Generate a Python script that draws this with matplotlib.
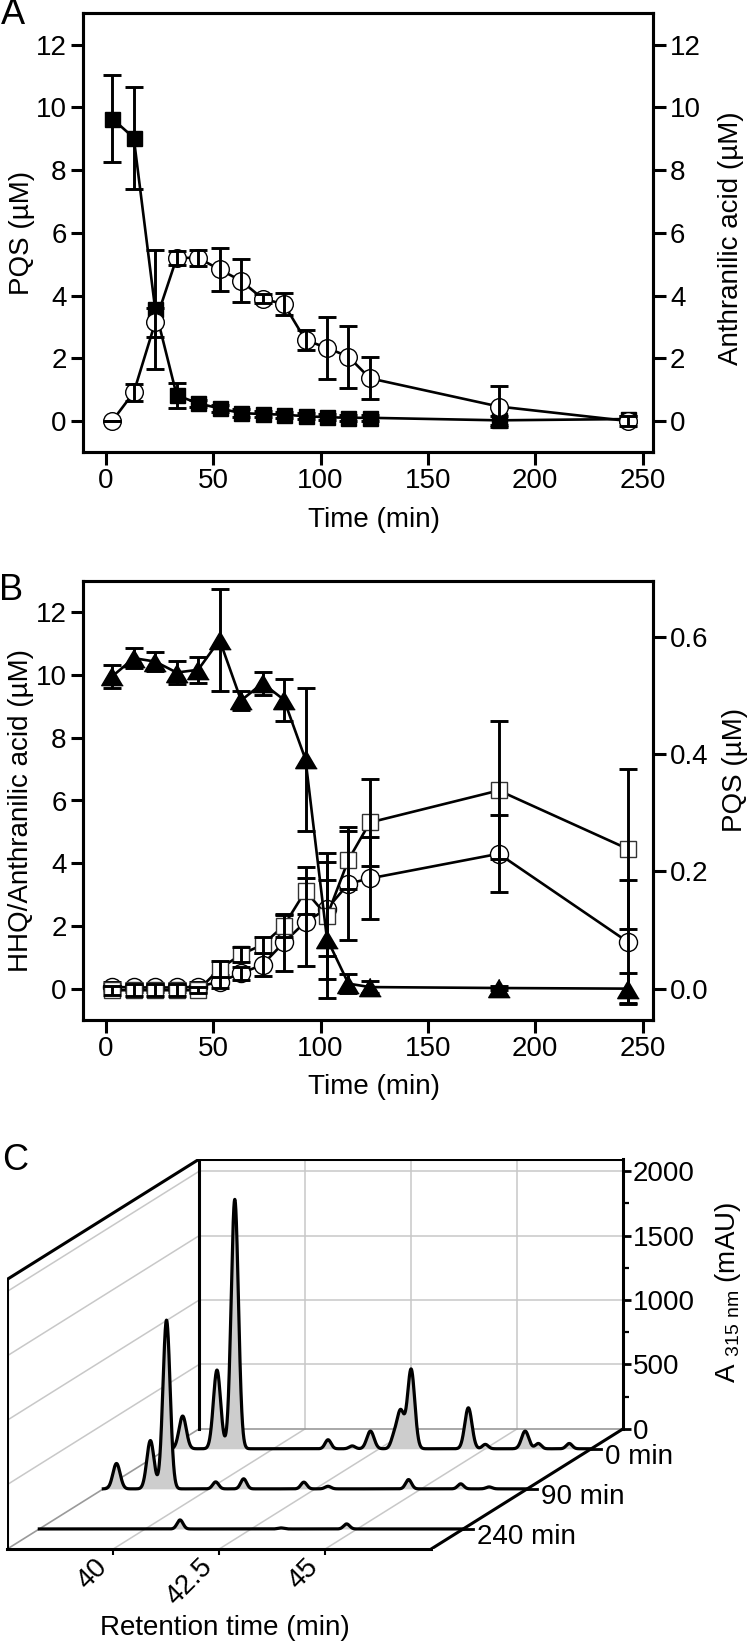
import numpy as np
import matplotlib
matplotlib.use("Agg")
import matplotlib.pyplot as plt
from matplotlib.transforms import offset_copy
from matplotlib.ticker import FixedLocator

plt.rcParams['font.family'] = ['Liberation Sans', 'DejaVu Sans']
plt.rcParams['mathtext.fontset'] = 'custom'
plt.rcParams['mathtext.rm'] = 'Liberation Sans'

# ---------------- data ----------------
time = [3, 13, 23, 33, 43, 53, 63, 73, 83, 93, 103, 113, 123, 183, 243]

# Panel A
a_pqs = [0.0, 0.91, 3.14, 5.20, 5.20, 4.83, 4.47, 3.90, 3.72, 2.58, 2.33, 2.05, 1.36, 0.46, 0.0]
a_pqs_err = [0.0, 0.28, 0.45, 0.22, 0.26, 0.68, 0.68, 0.15, 0.35, 0.33, 0.99, 0.99, 0.67, 0.66, 0.15]
a_aa = [9.64, 9.03, 3.56, 0.82, 0.56, 0.40, 0.25, 0.22, 0.20, 0.15, 0.12, 0.10, 0.10, 0.02, 0.06]
a_aa_err = [1.38, 1.62, 1.89, 0.40, 0.12, 0.12, 0.12, 0.10, 0.10, 0.10, 0.10, 0.10, 0.10, 0.15, 0.10]

# Panel B
b_aa = [9.96, 10.54, 10.43, 10.08, 10.17, 11.12, 9.19, 9.74, 9.21, 7.31, 1.59, 0.16, 0.05, 0.02, 0.0]
b_aa_err = [0.37, 0.32, 0.30, 0.37, 0.42, 1.62, 0.30, 0.37, 0.66, 2.28, 1.89, 0.30, 0.20, 0.05, 0.50]
b_hhq = [-0.05, -0.05, -0.05, -0.05, -0.05, 0.63, 1.09, 1.40, 2.01, 3.12, 2.31, 4.11, 5.30, 6.32, 4.46]
b_hhq_err = [0.15, 0.20, 0.20, 0.20, 0.10, 0.25, 0.25, 0.25, 0.35, 0.75, 2.00, 0.92, 1.40, 2.20, 2.55]
b_pqs = [0.003, 0.002, 0.002, 0.002, 0.003, 0.012, 0.026, 0.041, 0.079, 0.114, 0.136, 0.179, 0.188, 0.230, 0.080]
b_pqs_err = [0.008, 0.008, 0.008, 0.008, 0.008, 0.011, 0.011, 0.019, 0.049, 0.075, 0.080, 0.096, 0.070, 0.066, 0.105]

# Panel C (chromatogram peak tables: retention time (min), height (mAU))
c_labels = ['0 min', '90 min', '240 min']
c_peak_rt = [
    [37.86, 38.67, 39.09, 41.29, 41.86, 42.29, 42.84, 43.00, 43.25, 44.60, 45.00, 45.94, 46.25, 46.98],
    [37.81, 38.61, 38.99, 40.15, 40.81, 42.23, 42.80, 44.70, 45.93, 46.60],
    [40.82, 43.20, 44.75],
]
c_peak_h = [
    [254, 611, 1936, 70, 22, 137, 80, 292, 616, 318, 34, 137, 41, 41],
    [197, 375, 1310, 54, 78, 52, 20, 72, 39, 15],
    [70, 8, 39],
]
c_rt_ticks = [40, 42.5, 45]
c_mau_ticks = [0, 500, 1000, 1500, 2000]

# ---------------- figure ----------------
W, H = 750, 1642
fig = plt.figure(figsize=(W / 100, H / 100), dpi=100)

TICK = 20
LAB = 20
LW_SP = 2.2


def style(ax):
    for s in ax.spines.values():
        s.set_linewidth(LW_SP)
    ax.tick_params(direction='out', length=9, width=LW_SP, labelsize=TICK)
    ax.tick_params(axis='x', pad=2.5)
    ax.tick_params(axis='y', pad=3)


tri = [(0, 0.85), (-1, -0.85), (1, -0.85)]
eb_kw = dict(fmt='none', ecolor='k', elinewidth=2.1, capsize=6.5, capthick=2.1)

# ----- Panel A -----
axA = fig.add_axes([83.3 / W, 1 - 452.3 / H, 570 / W, 439 / H])
axA2 = axA.twinx()
axA.set_zorder(axA2.get_zorder() + 1)
axA.patch.set_visible(False)
for ax in (axA, axA2):
    ax.set_xlim(-10.5, 255)
    ax.set_ylim(-1, 13)
    ax.set_yticks(range(0, 13, 2))
    style(ax)
axA.set_xticks(range(0, 251, 50))

axA2.plot(time, a_aa, '-', color='k', lw=1.9, marker='s', ms=10.8, mfc='k', mec='k', zorder=2)
axA2.errorbar(time, a_aa, yerr=a_aa_err, zorder=3, **eb_kw)
axA.plot(time, a_pqs, '-', color='k', lw=1.9, marker='o', ms=12.7, mfc='white', mec='k', mew=1.0, zorder=2)
axA.errorbar(time, a_pqs, yerr=a_pqs_err, zorder=3, **eb_kw)

fig.text(374 / W, 1 - 520 / H, 'Time (min)', ha='center', va='center', fontsize=LAB)
fig.text(22 / W, 1 - 233 / H, 'PQS (µM)', rotation=90, ha='center', va='center', fontsize=LAB)
fig.text(731 / W, 1 - 238 / H, 'Anthranilic acid (µM)', rotation=90, ha='center', va='center', fontsize=LAB)
fig.text(13 / W, 1 - 15 / H, 'A', ha='center', va='center', fontsize=26)

# ----- Panel B -----
axB = fig.add_axes([83.3 / W, 1 - 1020 / H, 570 / W, 439 / H])
axB2 = axB.twinx()
axB.set_zorder(axB2.get_zorder() + 1)
axB.patch.set_visible(False)
f = 0.6 / 11.22
axB.set_xlim(-10.5, 255)
axB2.set_xlim(-10.5, 255)
axB.set_ylim(-1, 13)
axB2.set_ylim(-1 * f, 13 * f)
axB.set_yticks(range(0, 13, 2))
axB2.set_yticks([0.0, 0.2, 0.4, 0.6])
axB2.set_yticklabels(['0.0', '0.2', '0.4', '0.6'])
axB.set_xticks(range(0, 251, 50))
style(axB)
style(axB2)

axB2.plot(time, b_pqs, '-', color='k', lw=1.9, marker='o', ms=13, mfc='white', mec='k', mew=1.0, zorder=2)
axB2.errorbar(time, b_pqs, yerr=b_pqs_err, zorder=3, **eb_kw)
axB.plot(time, b_hhq, '-', color='k', lw=1.9, marker='s', ms=11.5, mfc='white', mec='#333333', mew=1.0, zorder=2)
axB.plot(time, b_aa, '-', color='k', lw=1.9, marker=tri, ms=15.5, mfc='k', mec='k', zorder=2)
axB.errorbar(time, b_hhq, yerr=b_hhq_err, zorder=3, **eb_kw)
axB.errorbar(time, b_aa, yerr=b_aa_err, zorder=3, **eb_kw)

fig.text(374 / W, 1 - 1087 / H, 'Time (min)', ha='center', va='center', fontsize=LAB)
fig.text(21.5 / W, 1 - 810 / H, 'HHQ/Anthranilic acid (µM)', rotation=90, ha='center', va='center', fontsize=LAB)
fig.text(735 / W, 1 - 770 / H, 'PQS (µM)', rotation=90, ha='center', va='center', fontsize=LAB)
fig.text(11 / W, 1 - 590 / H, 'B', ha='center', va='center', fontsize=26)

# ----- Panel C (pseudo 3D) -----
RT0, RT1 = 37.5, 47.5
TOP = 2094
Dx, Dy = 4.532, 934.0
depths = [1 / 6, 1 / 2, 5 / 6]

axC = fig.add_axes([7.3 / W, 1 - 1549 / H, 616 / W, 390 / H])
axC.set_xlim(RT0 - Dx, RT1)
axC.set_ylim(-Dy, TOP)
axC.patch.set_visible(False)
for k in ('top', 'left'):
    axC.spines[k].set_visible(False)
axC.spines['right'].set_bounds(0, TOP)
axC.spines['right'].set_linewidth(LW_SP)
axC.spines['bottom'].set_bounds(RT0 - Dx, RT1 - Dx)
axC.spines['bottom'].set_linewidth(LW_SP)
axC.yaxis.tick_right()
axC.set_yticks(c_mau_ticks)
axC.yaxis.set_minor_locator(FixedLocator([250, 750, 1250, 1750]))
axC.tick_params(axis='y', which='major', direction='out', length=6, width=2, labelsize=LAB, pad=1)
axC.tick_params(axis='y', which='minor', direction='out', length=4, width=1.6)
axC.set_xticks([r - Dx for r in c_rt_ticks])
axC.set_xticklabels([])
axC.tick_params(axis='x', direction='out', length=4, width=1.5)

GRID = '#c8c8c8'
# back wall grid
for z in c_mau_ticks[1:]:
    axC.plot([RT0, RT1], [z, z], color=GRID, lw=1.1, zorder=1)
    axC.plot([RT0, RT0 - Dx], [z, z - Dy], color=GRID, lw=1.1, zorder=1)
for r in c_rt_ticks:
    axC.plot([r, r], [0, TOP], color=GRID, lw=1.1, zorder=1)
    axC.plot([r, r - Dx], [0, -Dy], color=GRID, lw=1.1, zorder=1)
axC.plot([RT0, RT1], [0, 0], color='#9a9a9a', lw=1.2, zorder=1)
axC.plot([RT0, RT0 - Dx], [0, -Dy], color='#9a9a9a', lw=1.2, zorder=1)

# frame
K = dict(color='k', lw=LW_SP, zorder=2, solid_capstyle='projecting')
axC.plot([RT0, RT1], [TOP, TOP], **K)
axC.plot([RT0, RT0], [0, TOP], **K)
axC.plot([RT0, RT0 - Dx], [TOP, TOP - Dy], **K)
axC.plot([RT0 - Dx, RT0 - Dx], [-Dy, TOP - Dy], **K)
axC.plot([RT1, RT1 - Dx], [0, -Dy], **K)

# traces
starts = [37.62, 37.5, 37.5]
for i, d in enumerate(depths):
    rt = np.linspace(starts[i], RT1, 4000)
    z = np.zeros_like(rt)
    for p, h in zip(c_peak_rt[i], c_peak_h[i]):
        s = 0.085 if h > 100 else 0.07
        z += h * np.exp(-0.5 * ((rt - p) / s) ** 2)
    X = rt - d * Dx
    Y = z - d * Dy
    axC.fill_between(X, -d * Dy, Y, color='#cdcdcd', lw=0, zorder=3 + 2 * i)
    axC.plot(X, Y, color='k', lw=2.3, zorder=4 + 2 * i, solid_joinstyle='round')
    xe = RT1 - d * Dx
    axC.plot([xe, xe + 0.24], [-d * Dy, -d * Dy], color='k', lw=2.0, zorder=4 + 2 * i)
    axC.text(xe + 0.33, -d * Dy, c_labels[i], ha='left', va='baseline', fontsize=LAB,
             transform=offset_copy(axC.transData, fig=fig, x=0, y=-11, units='points'))

for r in c_rt_ticks:
    lbl = ('%g' % r)
    axC.text(r - Dx, -Dy, lbl, rotation=45, ha='right', va='center', rotation_mode='anchor',
             fontsize=LAB, transform=offset_copy(axC.transData, fig=fig, x=-7.5, y=-10, units='points'))

fig.text(225 / W, 1 - 1628 / H, 'Retention time (min)', ha='center', va='center', fontsize=LAB)
fig.text(728 / W, 1 - 1292 / H, r'A $_{\mathregular{315\ nm}}$ (mAU)', rotation=90, ha='center', va='center', fontsize=LAB)
fig.text(15 / W, 1 - 1160 / H, 'C', ha='center', va='center', fontsize=26)

fig.savefig('out.png', dpi=100)
